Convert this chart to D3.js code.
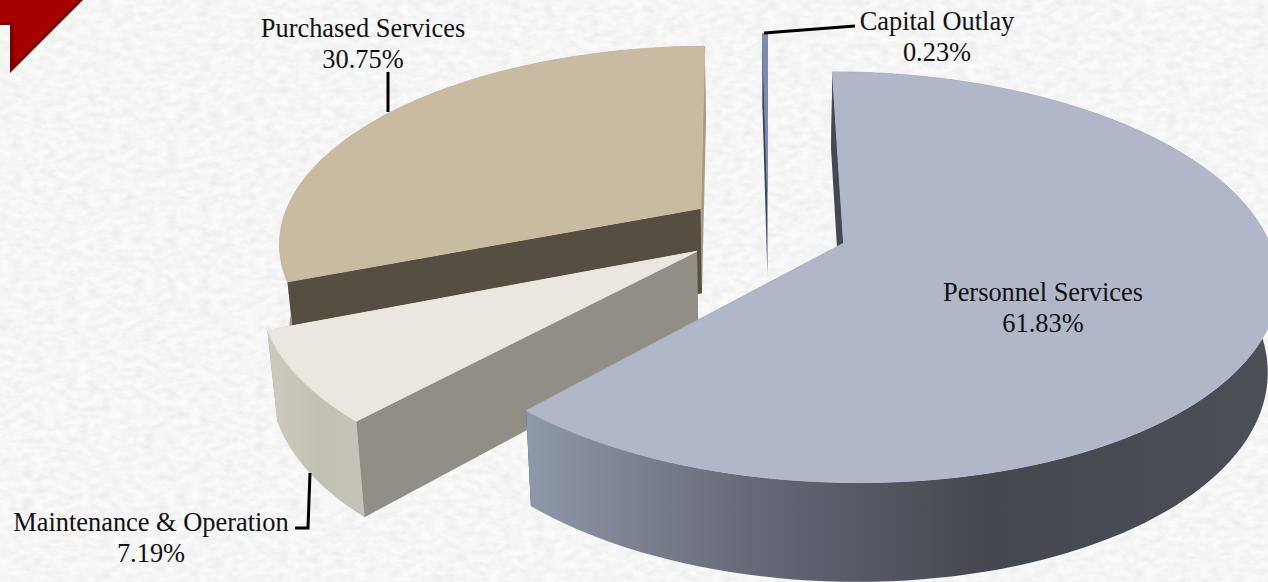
<!DOCTYPE html>
<html><head><meta charset="utf-8">
<style>html,body{margin:0;padding:0;background:#f7f7f7;overflow:hidden}svg{display:block}text{font-family:"Liberation Serif",serif;font-size:26.4px;fill:#111;text-anchor:middle}</style>
<script src="https://cdn.jsdelivr.net/npm/d3@7"></script>
</head><body><div id="chart"></div>
<script>
const categories = ["Personnel Services","Maintenance & Operation","Purchased Services","Capital Outlay"];
const shares = [61.83,7.19,30.75,0.23];
const explode = [0.198,0.198,0.193,0.198];
const nudgeX = [0,2,2,3];
const topColors = ["#b0b7c9","#ebe7df","#c9baa2","#7b8cad"];
const startWallColors = ["#454852","#918e86","#574e42","#3e4557"];
const endWallColors = ["#454852","#918e86","#a89b84","#3e4557"];
const drawOrder = [3,2,1,0];
const labelAnchors = [[1043,301],[151,531],[363,37],[937,30]];
const leaders = [null,[[310,473],[308,528],[295,528]],[[388,72],[388,112]],[[764,33],[855,26]]];

const W=1268,H=582;
const svg=d3.select("#chart").append("svg").attr("width",W).attr("height",H);
const defs=svg.append("defs");
const f=defs.append("filter").attr("id","paper").attr("x",0).attr("y",0).attr("width","100%").attr("height","100%");
f.append("feTurbulence").attr("type","fractalNoise").attr("baseFrequency","0.09 0.16").attr("numOctaves",3).attr("seed",4);
f.append("feColorMatrix").attr("type","matrix").attr("values","0 0 0 0 0.0  0 0 0 0 0.0  0 0 0 0 0.0  0.085 0 0 0 -0.027");
const g1=defs.append("linearGradient").attr("id","wall0").attr("gradientUnits","userSpaceOnUse").attr("x1",527).attr("x2",1268).attr("y1",0).attr("y2",0);
[[0,"#8f98aa"],[0.12,"#7f8595"],[0.3,"#666a77"],[0.62,"#45474f"],[1,"#4b4f58"]].forEach(s=>g1.append("stop").attr("offset",s[0]).attr("stop-color",s[1]));
const g2=defs.append("linearGradient").attr("id","wall1").attr("gradientUnits","userSpaceOnUse").attr("x1",275).attr("x2",366).attr("y1",0).attr("y2",0);
[[0,"#cbc8be"],[0.5,"#c2bfb5"],[1,"#c6c3ba"]].forEach(s=>g2.append("stop").attr("offset",s[0]).attr("stop-color",s[1]));
const outerFill=["url(#wall0)","url(#wall1)","#a89b84","#5f6f8e"];

svg.append("rect").attr("width",W).attr("height",H).attr("fill","#f9f9f9");
svg.append("rect").attr("width",W).attr("height",H).attr("filter","url(#paper)");

// red corner ribbon
svg.append("path").attr("d","M0,0H83L10,73V25H0Z").attr("fill","#7d0000");
svg.append("path").attr("d","M0,0H78L14,64V22H0Z").attr("fill","#a80000");

// projection
const cx=765,cy=229,rx=421,ry=195,k=0.164,depth=86,shrink=0.98;
const xS=d3.scaleLinear().domain([0,1]).range([cx,cx+rx]);
const yS=d3.scaleLinear().domain([0,1]).range([cy,cy+ry]);
function proj(u,v,low){
  const w=1-k*v;
  let sx=xS(u/w), sy=yS(v/w);
  if(low){ sx=cx+(sx-cx)*shrink; sy=cy+(sy-cy)*shrink+depth/w; }
  return [sx,sy];
}
const arcs=d3.pie().sort(null).value(d=>d)(shares);
const line=d3.line();

drawOrder.forEach(i=>{
  const a=arcs[i], mid=(a.startAngle+a.endAngle)/2, d=explode[i];
  const ou=d*Math.sin(mid), ov=-d*Math.cos(mid);
  const rim=t=>[ou+Math.sin(t),ov-Math.cos(t)];
  const ts=d3.range(0,121).map(j=>a.startAngle+(a.endAngle-a.startAngle)*j/120);
  const top=ts.map(t=>proj(...rim(t),false));
  const low=ts.map(t=>proj(...rim(t),true));
  const A=proj(ou,ov,false), B=proj(ou,ov,true);
  const g=svg.append("g").attr("class","slice").attr("data-name",categories[i]).attr("transform",`translate(${nudgeX[i]},0)`);
  const wall=(pts,fill,sw)=>g.append("path").attr("d",line(pts)+"Z").attr("fill",fill).attr("stroke",sw?fill:"none").attr("stroke-width",sw||0);
  wall([A,top[120],low[120],B],endWallColors[i]);
  wall(top.concat(low.slice().reverse()),outerFill[i]);
  wall([A,top[0],low[0],B],startWallColors[i]);
  wall([A].concat(top),topColors[i],1);
});

leaders.forEach(p=>{ if(p) svg.append("path").attr("d",line(p)).attr("fill","none").attr("stroke","#000").attr("stroke-width",3); });

categories.forEach((c,i)=>{
  const t=svg.append("text").attr("x",labelAnchors[i][0]).attr("y",labelAnchors[i][1]);
  t.append("tspan").text(c);
  t.append("tspan").attr("x",labelAnchors[i][0]).attr("dy",30.5).text(d3.format(".2f")(shares[i])+"%");
});
</script></body></html>
